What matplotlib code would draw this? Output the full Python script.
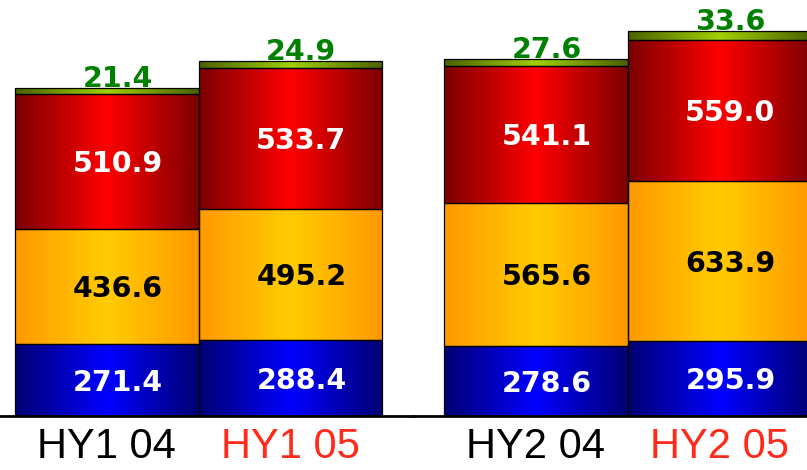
import matplotlib.pyplot as plt
import numpy as np
from matplotlib.colors import LinearSegmentedColormap

periods = ["HY1 04", "HY1 05", "HY2 04", "HY2 05"]
period_colors = ["black", "#FF2A1A", "black", "#FF2A1A"]
blue_vals = [271.4, 288.4, 278.6, 295.9]
orange_vals = [436.6, 495.2, 565.6, 633.9]
red_vals = [510.9, 533.7, 541.1, 559.0]
green_vals = [21.4, 24.9, 27.6, 33.6]

# (values, edge colour, centre colour, label colour)
layers = [
    (blue_vals, "#000072", "#0000FF", "white"),
    (orange_vals, "#FF9900", "#FFCC00", "black"),
    (red_vals, "#7C0000", "#FF0000", "white"),
]
green_layer = (green_vals, "#4B6200", "#A0D000")

W, H = 807, 470
fig = plt.figure(figsize=(W / 100, H / 100), dpi=100)
base = 54 / H
ax_l = fig.add_axes([0, base, 413 / W, 416 / H])
ax_r = fig.add_axes([413 / W, base, 394 / W, 416 / H])

label_font = dict(family="DejaVu Sans", fontweight="bold", fontsize=20.5)
grad = np.linspace(0, 1, 256)[None, :]


def shaded_segment(ax, x, bottom, height, c_edge, c_mid):
    cmap = LinearSegmentedColormap.from_list("shade", [c_edge, c_mid, c_edge])
    patch = ax.bar(x, height, width=1.0, bottom=bottom, facecolor="none",
                   edgecolor="black", linewidth=0.9, zorder=3)[0]
    im = ax.imshow(grad, cmap=cmap, aspect="auto", origin="lower", zorder=2,
                   extent=[x - 0.5, x + 0.5, bottom, bottom + height])
    im.set_clip_path(patch)


def draw_half(ax, idx, xlim, ytop):
    for pos, i in enumerate(idx):
        bottom = 0.0
        for vals, c_edge, c_mid, txt_color in layers:
            v = vals[i]
            shaded_segment(ax, pos, bottom, v, c_edge, c_mid)
            ax.annotate(f"{v:.1f}", (pos, bottom + v / 2), xytext=(8, -2),
                        textcoords="offset points", ha="center", va="center",
                        color=txt_color, **label_font)
            bottom += v
        g_vals, g_edge, g_mid = green_layer
        gv = g_vals[i]
        shaded_segment(ax, pos, bottom, gv, g_edge, g_mid)
        ax.annotate(f"{gv:.1f}", (pos, bottom + gv), xytext=(8, 1),
                    textcoords="offset points", ha="center", va="baseline",
                    color="#008000", **label_font)

    ax.set_xlim(*xlim)
    ax.set_ylim(0, ytop)
    ax.set_xticks(range(len(idx)))
    ax.set_xticklabels([periods[i] for i in idx], fontsize=30,
                       family="Liberation Sans")
    for lbl, i in zip(ax.get_xticklabels(), idx):
        lbl.set_color(period_colors[i])
    ax.tick_params(axis="x", length=0, pad=8)
    ax.set_yticks([])
    for side in ["left", "right", "top"]:
        ax.spines[side].set_visible(False)
    ax.spines["bottom"].set_linewidth(2)
    ax.patch.set_visible(False)


draw_half(ax_l, [0, 1], (-0.582, 1.669), 1573)
draw_half(ax_r, [2, 3], (-0.669, 1.478), 1646)

fig.savefig("out.png", dpi=100)
